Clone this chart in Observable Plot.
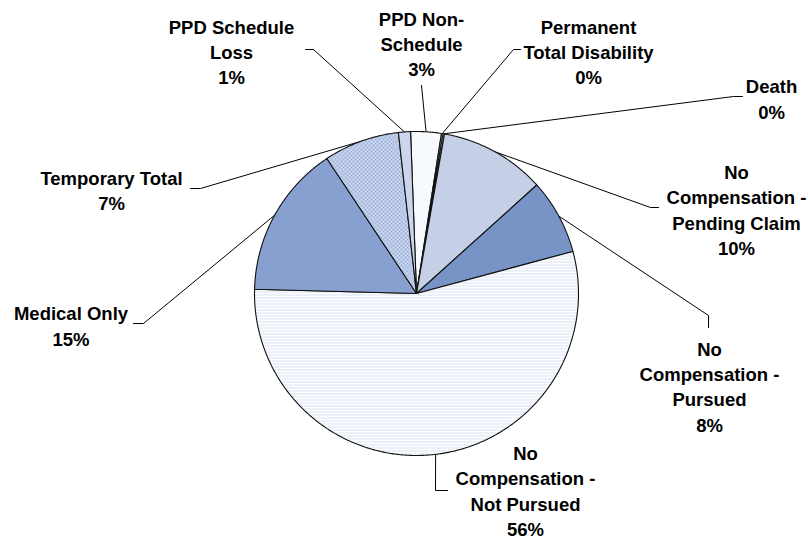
<!DOCTYPE html>
<html><head><meta charset="utf-8">
<script src="https://cdn.jsdelivr.net/npm/d3@7"></script>
<script src="https://cdn.jsdelivr.net/npm/@observablehq/plot@0.6"></script>
<style>body{margin:0;background:#fff}#chart{width:808px;height:540px}</style>
</head><body><div id="chart"></div>
<script>
// ---- data ----
const categories = ["PPD Non-Schedule","Permanent Total Disability","Death","No Compensation - Pending Claim","No Compensation - Pursued","No Compensation - Not Pursued","Medical Only","Temporary Total","PPD Schedule Loss"];
const values = [3.05, 0.15, 0.15, 10.55, 7.5, 54.6, 15.25, 7.55, 1.2];
const labelNames = [["PPD Non-","Schedule"],["Permanent","Total Disability"],["Death"],["No","Compensation -","Pending Claim"],["No","Compensation -","Pursued"],["No","Compensation -","Not Pursued"],["Medical Only"],["Temporary Total"],["PPD Schedule","Loss"]];
const percentLabels = ["3%","0%","0%","10%","8%","56%","15%","7%","1%"];

// ---- styles / layout ----
const sliceFills = ["url(#pNS)","#dde4f2","#dde4f2","#c5d0e7","#7894c7","url(#pNP)","#87a0cf","url(#pTT)","url(#pSL)"];
const W = 808, H = 540, CX = 416, CY = 293, R = 162, START = -2.1;
const labelAt = [[421,42.5],[588,50.5],[771,97.5],[736,208.5],[709,385],[525,489.5],[70.5,324.5],[111,189],[231,50.5]];
const leaderBends = [[[421,85]],[[513,49],[520,49]],[[733,96],[742,96]],[[650,207],[658,207]],[[708,315],[708,327]],[[435,490],[447,490]],[[143,323],[133,323]],[[200,188],[190,188]],[[313,49],[305,49]]];

const toX = px => px - CX, toY = py => CY - py;
const total = d3.sum(values);
let acc = 0;
const slices = values.map((v, i) => {
  const a0 = START + acc / total * 360; acc += v;
  const a1 = START + acc / total * 360;
  return {name: categories[i], a0, a1, mid: (a0 + a1) / 2, fill: sliceFills[i]};
});
const rad = a => a * Math.PI / 180;
const slicePts = [];
for (const s of slices) {
  slicePts.push({name: s.name, fill: s.fill, x: 0, y: 0});
  const n = Math.max(2, Math.ceil((s.a1 - s.a0) / 0.5));
  for (let k = 0; k <= n; k++) {
    const a = rad(s.a0 + (s.a1 - s.a0) * k / n);
    slicePts.push({name: s.name, fill: s.fill, x: R * Math.sin(a), y: R * Math.cos(a)});
  }
  slicePts.push({name: s.name, fill: s.fill, x: 0, y: 0});
}
const leaderPts = [];
slices.forEach((s, i) => {
  const a = rad(s.mid);
  leaderPts.push({name: s.name, x: R * Math.sin(a), y: R * Math.cos(a)});
  for (const [px, py] of leaderBends[i]) leaderPts.push({name: s.name, x: toX(px), y: toY(py)});
});
const labels = slices.map((s, i) => ({
  text: labelNames[i].concat([percentLabels[i]]).join("\n"),
  x: toX(labelAt[i][0]), y: toY(labelAt[i][1])
}));

const FS = 18.5;
const chart = Plot.plot({
  width: W, height: H, margin: 0,
  x: {domain: [toX(0), toX(W)], range: [0, W], axis: null},
  y: {domain: [toY(H), toY(0)], range: [H, 0], axis: null},
  color: {type: "identity"},
  style: {background: "#fff"},
  marks: [
    Plot.line(leaderPts, {x: "x", y: "y", z: "name", stroke: "#000", strokeWidth: 1}),
    Plot.line(slicePts, {x: "x", y: "y", z: "name", fill: "fill", stroke: "#111", strokeWidth: 1.1, strokeLinejoin: "round"}),
    Plot.text(labels, {x: "x", y: "y", text: "text", fontSize: FS, fontWeight: "bold",
      fontFamily: "'Liberation Sans', Arial, sans-serif", fill: "#000", textAnchor: "middle",
      lineAnchor: "middle", lineHeight: 25.3 / FS})
  ]
});
const ns = "http://www.w3.org/2000/svg";
const defs = document.createElementNS(ns, "defs");
defs.innerHTML = `
<pattern id="pNP" width="4" height="3" patternUnits="userSpaceOnUse">
  <rect width="4" height="3" fill="#fbfcfe"/><rect width="4" height="1" fill="#dde3f1"/>
</pattern>
<pattern id="pTT" width="4" height="4" patternUnits="userSpaceOnUse">
  <rect width="4" height="4" fill="#d2dcf0"/><rect width="2" height="2" fill="#9fb3dc"/><rect x="2" y="2" width="2" height="2" fill="#9fb3dc"/>
</pattern>
<pattern id="pSL" width="2" height="2" patternUnits="userSpaceOnUse">
  <rect width="2" height="2" fill="#d3dcf0"/><rect width="1" height="1" fill="#b3c3e4"/>
</pattern>
<pattern id="pNS" width="3" height="3" patternUnits="userSpaceOnUse">
  <rect width="3" height="3" fill="#fafbfe"/><rect width="1" height="1" fill="#e3e9f5"/>
</pattern>`;
chart.insertBefore(defs, chart.firstChild);
document.getElementById("chart").appendChild(chart);
</script>
</body></html>
